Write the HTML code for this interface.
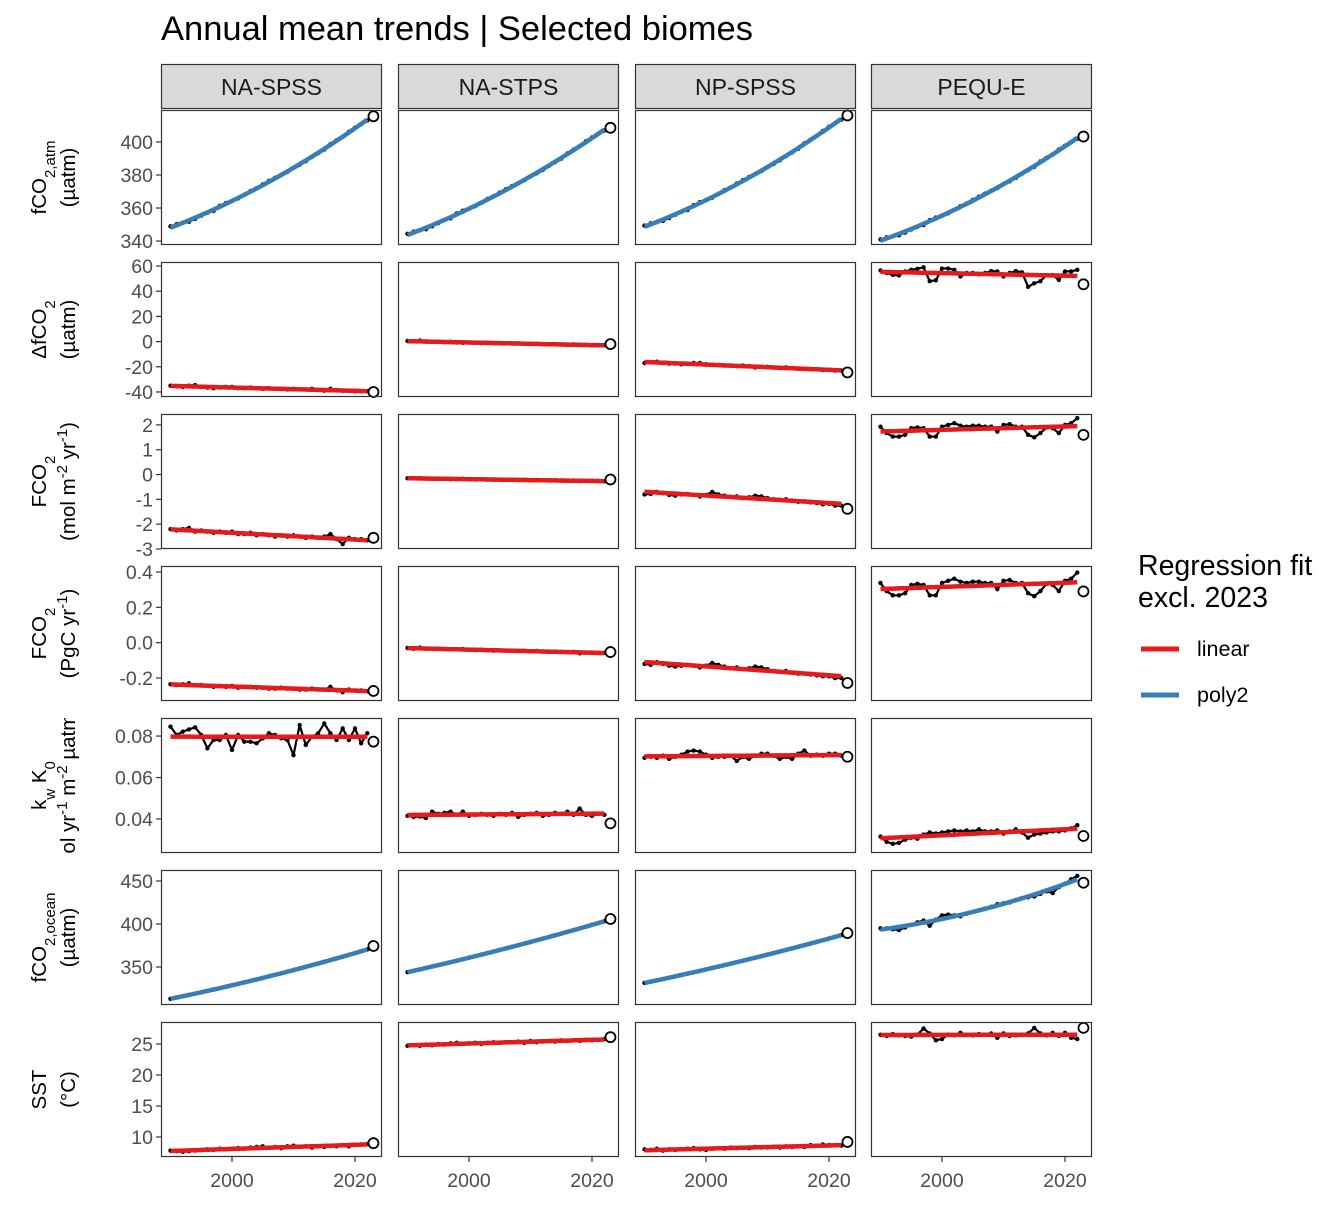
<!DOCTYPE html>
<html><head><meta charset="utf-8"><style>
body{margin:0;background:#fff}
svg text{font-family:"Liberation Sans",Arial,sans-serif}
</style></head><body>
<svg id="c" width="1344" height="1209" xmlns="http://www.w3.org/2000/svg">
<text x="161" y="40" font-size="34.5" fill="#000">Annual mean trends | Selected biomes</text>
<g>
<text x="1138" y="575" font-size="28.5">Regression fit</text>
<text x="1138" y="607" font-size="28.5">excl. 2023</text>
<line x1="1141" y1="649" x2="1179" y2="649" stroke="#E41A1C" stroke-width="5"/>
<text x="1197" y="656" font-size="21.5">linear</text>
<line x1="1141" y1="695" x2="1179" y2="695" stroke="#377EB8" stroke-width="5"/>
<text x="1197" y="702" font-size="21.5">poly2</text>
</g>
</svg>
<script>
const biomes=["NA-SPSS","NA-STPS","NP-SPSS","PEQU-E"];
const firstYear=1990;
const xTicks=[2000,2020];
const fco2atm=[
[348.9,350.2,351.0,351.7,353.4,355.4,357.2,358.3,361.3,363.0,364.2,365.8,368.0,370.3,372.0,374.3,376.4,378.3,380.1,381.9,384.4,386.2,388.4,391.0,393.2,395.4,398.7,401.0,403.2,406.2,408.7,410.9,413.0,415.6],
[344.4,345.7,346.5,347.2,348.9,350.9,352.7,353.8,356.7,358.4,359.5,361.1,363.2,365.5,367.1,369.4,371.4,373.3,375.0,376.8,379.2,381.0,383.1,385.6,387.8,389.9,393.1,395.4,397.5,400.4,402.8,404.9,406.9,408.6],
[349.4,350.7,351.5,352.2,353.9,355.9,357.7,358.8,361.8,363.5,364.7,366.3,368.5,370.8,372.5,374.8,376.9,378.8,380.6,382.4,384.9,386.7,388.9,391.5,393.7,395.9,399.2,401.5,403.7,406.7,409.2,411.4,413.5,416.1],
[341.0,342.2,342.9,343.5,345.1,347.0,348.7,349.7,352.6,354.2,355.3,356.8,358.9,361.1,362.7,364.9,366.9,368.7,370.4,372.1,374.5,376.2,378.3,380.8,382.9,385.0,388.2,390.4,392.5,395.4,397.8,399.9,401.9,403.3]];
const dfco2=[
[-35,-35.5,-36,-35,-34.5,-36,-36.5,-37,-36.5,-36,-36,-37,-37,-36.5,-37,-37.5,-37,-37.5,-37.5,-38,-37.5,-38,-38,-37.5,-38.5,-39,-37.5,-38.5,-39,-39,-39.5,-39.5,-39.5,-40],
[0.5,0.3,0.8,0.2,0,-0.3,-0.5,-0.2,-0.8,-1,-0.7,-0.9,-1.2,-1,-1.3,-1.2,-1.5,-1.6,-1.4,-1.8,-2,-1.7,-2,-2.2,-2.1,-2.3,-2.5,-2.2,-2.6,-2.6,-3,-2.7,-2.8,-2],
[-17,-16.5,-16,-17,-17.5,-17.5,-18,-17.5,-17,-17,-18,-18.5,-18.5,-19,-19,-19.5,-19,-19.5,-20.5,-20,-20,-20.5,-21,-20.5,-21,-21.5,-21.5,-22,-22,-22.5,-22.5,-23,-23,-24.5],
[56.5,54.5,53,52.5,55.7,57,57.8,59,48,48.7,58,58,57,51.7,54.5,54.5,53.5,54.5,56,55.7,51.7,54.5,56,55,43.5,46.3,48,52.8,52.8,49,55.7,55.7,57,45.5]];
const fco2mol=[
[-2.2,-2.25,-2.2,-2.15,-2.3,-2.25,-2.3,-2.35,-2.3,-2.35,-2.3,-2.4,-2.4,-2.35,-2.45,-2.4,-2.45,-2.5,-2.45,-2.5,-2.45,-2.5,-2.55,-2.5,-2.55,-2.5,-2.4,-2.6,-2.8,-2.55,-2.6,-2.6,-2.65,-2.55],
[-0.15,-0.14,-0.15,-0.16,-0.17,-0.16,-0.17,-0.18,-0.18,-0.17,-0.19,-0.2,-0.19,-0.2,-0.21,-0.2,-0.21,-0.22,-0.22,-0.21,-0.23,-0.22,-0.23,-0.24,-0.23,-0.24,-0.25,-0.24,-0.26,-0.25,-0.25,-0.26,-0.27,-0.2],
[-0.8,-0.78,-0.7,-0.75,-0.82,-0.85,-0.8,-0.78,-0.82,-0.88,-0.82,-0.7,-0.8,-0.85,-0.9,-0.88,-0.95,-0.92,-0.85,-0.88,-0.95,-1.0,-1.02,-1.0,-1.05,-1.1,-1.08,-1.12,-1.15,-1.2,-1.18,-1.25,-1.25,-1.38],
[1.93,1.67,1.53,1.53,1.6,1.87,1.9,1.87,1.53,1.53,1.93,2.0,2.07,1.97,1.93,1.97,1.97,1.93,1.93,1.73,2.0,2.03,1.93,1.93,1.6,1.5,1.67,1.9,1.87,1.67,2.0,2.07,2.27,1.6]];
const fco2pgc=[
[-0.235,-0.24,-0.235,-0.23,-0.24,-0.24,-0.245,-0.25,-0.245,-0.25,-0.245,-0.255,-0.25,-0.25,-0.255,-0.255,-0.26,-0.26,-0.255,-0.26,-0.26,-0.265,-0.265,-0.26,-0.265,-0.265,-0.25,-0.27,-0.28,-0.265,-0.27,-0.27,-0.275,-0.273],
[-0.03,-0.035,-0.028,-0.033,-0.035,-0.034,-0.036,-0.038,-0.037,-0.036,-0.04,-0.042,-0.04,-0.043,-0.045,-0.044,-0.045,-0.046,-0.047,-0.046,-0.048,-0.047,-0.05,-0.052,-0.05,-0.052,-0.054,-0.052,-0.06,-0.056,-0.055,-0.057,-0.058,-0.053],
[-0.12,-0.125,-0.11,-0.12,-0.13,-0.135,-0.13,-0.125,-0.13,-0.14,-0.13,-0.115,-0.125,-0.135,-0.145,-0.14,-0.15,-0.145,-0.135,-0.14,-0.15,-0.16,-0.165,-0.16,-0.17,-0.175,-0.175,-0.18,-0.185,-0.19,-0.19,-0.2,-0.2,-0.228],
[0.338,0.292,0.268,0.268,0.28,0.327,0.333,0.327,0.268,0.268,0.338,0.35,0.362,0.345,0.338,0.345,0.345,0.338,0.338,0.303,0.35,0.355,0.338,0.338,0.28,0.263,0.292,0.333,0.327,0.292,0.35,0.362,0.397,0.29]];
const kwk0=[
[0.0845,0.0805,0.0821,0.0832,0.0842,0.0805,0.0741,0.0781,0.0781,0.0805,0.0733,0.0805,0.0773,0.0773,0.0765,0.0789,0.0813,0.0805,0.0789,0.0781,0.0708,0.0853,0.0757,0.0797,0.0813,0.0861,0.0813,0.0781,0.0837,0.0781,0.0837,0.0765,0.0813,0.0773],
[0.0415,0.041,0.0412,0.0405,0.0435,0.0425,0.043,0.0435,0.042,0.0435,0.0415,0.042,0.0425,0.042,0.0415,0.0425,0.042,0.043,0.041,0.042,0.0425,0.043,0.0415,0.042,0.043,0.0425,0.0435,0.042,0.045,0.042,0.0415,0.0425,0.042,0.0379],
[0.0695,0.07,0.0695,0.0705,0.069,0.07,0.071,0.0725,0.073,0.0725,0.071,0.0695,0.07,0.07,0.0705,0.068,0.07,0.069,0.0705,0.0715,0.0715,0.0705,0.069,0.07,0.069,0.0715,0.073,0.0705,0.071,0.0705,0.0715,0.0715,0.0705,0.07],
[0.0315,0.029,0.028,0.0285,0.03,0.031,0.0305,0.0325,0.0335,0.033,0.0335,0.034,0.0345,0.034,0.0345,0.034,0.035,0.034,0.034,0.0345,0.033,0.034,0.035,0.0335,0.031,0.0325,0.033,0.0335,0.034,0.034,0.0345,0.0355,0.037,0.0318]];
const fco2ocean=[
[313,314.5,316,317.5,319,320.6,322.2,323.8,325.4,327,328.7,330.4,332.1,333.8,335.5,337.3,339.1,340.9,342.7,344.5,346.4,348.3,350.2,352.1,354,356,358,360,362,364.1,366.2,368.3,370.4,374.4],
[344,345.6,347.2,348.8,350.5,352.2,353.9,355.6,357.3,359,360.8,362.6,364.4,366.2,368,369.8,371.6,373.4,375.3,377.2,379.1,381,382.9,384.8,386.8,388.8,390.8,392.8,394.8,396.9,399,401.1,403.2,405.8],
[331.4,332.9,334.4,335.9,337.5,339.1,340.7,342.3,343.9,345.5,347.1,348.8,350.5,352.2,353.9,355.6,357.3,359,360.8,362.6,364.4,366.2,368,369.8,371.6,373.5,375.4,377.3,379.2,381.1,383.1,385.1,387.1,389.5],
[395,395,394,393,396,399,402,404,398,405,410,411,410,409,412,414,416,418,420,423,424,425,428,430,431,432,435,438,436,443,447,452,456,448]];
const sst=[
[7.8,7.7,7.6,7.7,7.8,7.9,8.0,7.9,8.1,8.0,8.1,8.2,8.1,8.3,8.4,8.5,8.3,8.4,8.2,8.5,8.6,8.4,8.5,8.3,8.5,8.4,8.6,8.5,8.7,8.5,8.7,8.8,8.9,9.0],
[24.7,24.8,24.7,24.9,24.8,25.0,24.9,25.1,25.2,25.0,25.1,25.2,25.0,25.2,25.3,25.2,25.3,25.3,25.4,25.2,25.5,25.3,25.4,25.5,25.4,25.6,25.5,25.6,25.5,25.7,25.6,25.7,25.8,26.1],
[8.0,7.9,8.1,7.8,8.0,7.9,8.0,8.1,8.2,8.0,7.9,8.1,8.2,8.1,8.3,8.2,8.3,8.2,8.4,8.3,8.3,8.4,8.3,8.5,8.4,8.5,8.4,8.7,8.6,8.8,8.7,8.7,8.6,9.2],
[26.5,26.3,26.6,26.4,26.3,26.2,26.5,27.5,26.7,25.6,25.8,26.5,26.4,26.8,26.5,26.4,26.6,26.5,26.7,26.0,26.7,26.3,26.4,26.5,26.7,27.6,26.7,26.4,26.8,26.3,26.8,26.0,25.8,27.6]];
const yTicks1=[340,360,380,400];
const yTicks2=[-40,-20,0,20,40,60];
const yTicks3=[-3,-2,-1,0,1,2];
const yTicks4=[-0.2,0.0,0.2,0.4];
const yTicks5=[0.04,0.06,0.08];
const yTicks6=[350,400,450];
const yTicks7=[10,15,20,25];

const NS="http://www.w3.org/2000/svg";
const svg=document.getElementById('c');
function mk(t,a,p){const e=document.createElementNS(NS,t);for(const k in a)e.setAttribute(k,a[k]);(p||svg).appendChild(e);return e;}
const colL=[161,398,635,871], PW=221, PH=135;
const rowT=[110,262,414,566,718,870,1022];
const rows=[
 {name:"fco2-atm",data:fco2atm,dom:[337.6,419.4],ticks:yTicks1,fit:2,fmt:v=>v},
 {name:"delta-fco2",data:dfco2,dom:[-44,63.2],ticks:yTicks2,fit:1,fmt:v=>v},
 {name:"fco2-mol",data:fco2mol,dom:[-3.0,2.44],ticks:yTicks3,fit:1,fmt:v=>v},
 {name:"fco2-pgc",data:fco2pgc,dom:[-0.330,0.434],ticks:yTicks4,fit:1,fmt:v=>v.toFixed(1)},
 {name:"kw-k0",data:kwk0,dom:[0.0236,0.0887],ticks:yTicks5,fit:1,fmt:v=>v.toFixed(2)},
 {name:"fco2-ocean",data:fco2ocean,dom:[305.8,462.8],ticks:yTicks6,fit:2,fmt:v=>v},
 {name:"sst",data:sst,dom:[6.77,28.55],ticks:yTicks7,fit:1,fmt:v=>v}];
function xs(c,yr){return colL[c]+9.5+(yr-firstYear)*6.15;}
function ysc(r,v){const d=rows[r].dom;return rowT[r]+PH-(v-d[0])/(d[1]-d[0])*PH;}
function solve(A,b){const n=b.length;for(let i=0;i<n;i++){let m=i;for(let k=i+1;k<n;k++)if(Math.abs(A[k][i])>Math.abs(A[m][i]))m=k;[A[i],A[m]]=[A[m],A[i]];[b[i],b[m]]=[b[m],b[i]];for(let k=i+1;k<n;k++){const f=A[k][i]/A[i][i];for(let j=i;j<n;j++)A[k][j]-=f*A[i][j];b[k]-=f*b[i];}}const x=new Array(n).fill(0);for(let i=n-1;i>=0;i--){let s=b[i];for(let j=i+1;j<n;j++)s-=A[i][j]*x[j];x[i]=s/A[i][i];}return x;}
function fitPoly(vals,deg){const n=deg+1;const A=[...Array(n)].map(()=>new Array(n).fill(0)),b=new Array(n).fill(0);for(let i=0;i<vals.length;i++){const t=i/10;for(let j=0;j<n;j++){b[j]+=vals[i]*Math.pow(t,j);for(let k=0;k<n;k++)A[j][k]+=Math.pow(t,j+k);}}return solve(A,b);}

biomes.forEach((b,c)=>{
 const g=mk('g',{});
 
 
 mk('rect',{x:colL[c]+0.5,y:64.5,width:PW-1,height:44,fill:'#d9d9d9',stroke:'#333','stroke-width':1.2},g);
 const t=mk('text',{x:colL[c]+PW/2,y:95,'font-size':23,'text-anchor':'middle',fill:'#1a1a1a'},g);t.textContent=b;
});
rows.forEach((row,r)=>{
 const ty=rowT[r];
 row.ticks.forEach(v=>{
  const y=ysc(r,v);
  const l=mk('line',{x1:156,x2:161,y1:y,y2:y,stroke:'#333','stroke-width':1.2});
  
  
  const t=mk('text',{x:153,y:y+7,'font-size':19.5,'text-anchor':'end',fill:'#4d4d4d'});
  
  
  t.textContent=row.fmt(v);
 });
 biomes.forEach((b,c)=>{
  const g=mk('g',{});
  
  
  const cid='cl'+r+'_'+c;
  const cp=mk('clipPath',{id:cid},g);mk('rect',{x:colL[c],y:ty,width:PW,height:PH},cp);
  const vals=row.data[c];
  const inner=mk('g',{'clip-path':'url(#'+cid+')'},g);
  let d='';
  for(let i=0;i<vals.length-1;i++)d+=(i?'L':'M')+xs(c,firstYear+i).toFixed(1)+','+ysc(r,vals[i]).toFixed(1);
  const pl=mk('path',{d:d,fill:'none',stroke:'#000','stroke-width':2.2,'stroke-linejoin':'round'},inner);
  
  
  for(let i=0;i<vals.length-1;i++){
   const p=mk('circle',{cx:xs(c,firstYear+i),cy:ysc(r,vals[i]),r:2.2,fill:'#000'},inner);
   
   
  }
  const coef=fitPoly(vals.slice(0,-1),row.fit);
  let fd='';
  for(let i=0;i<=64;i++){const t=i*(vals.length-2)/64;let v=0;coef.forEach((a,j)=>v+=a*Math.pow(t/10,j));fd+=(i?'L':'M')+xs(c,firstYear+t).toFixed(1)+','+ysc(r,v).toFixed(1);}
  const fl=mk('path',{d:fd,fill:'none',stroke:row.fit==2?'#377EB8':'#E41A1C','stroke-width':4.5},inner);
  
  
  const last=vals.length-1;
  const oc=mk('circle',{cx:xs(c,firstYear+last),cy:ysc(r,vals[last]),r:5,fill:'none',stroke:'#000','stroke-width':1.8},g);
  
  
  mk('rect',{x:colL[c]+0.5,y:ty+0.5,width:PW-1,height:PH-1,fill:'none',stroke:'#333','stroke-width':1.2},g);
  if(r==6){
   xTicks.forEach(yr=>{
    const x=xs(c,yr);
    const l=mk('line',{x1:x,x2:x,y1:ty+PH,y2:ty+PH+5,stroke:'#333','stroke-width':1.2});
    
    
    const t=mk('text',{x:x,y:ty+PH+30,'font-size':19.5,'text-anchor':'middle',fill:'#4d4d4d'});
    
    
    t.textContent=yr;
   });
  }
 });
});
const titles=[
 ['fCO<tspan baseline-shift="sub" font-size="15">2,atm</tspan>','(µatm)'],
 ['ΔfCO<tspan baseline-shift="sub" font-size="15">2</tspan>','(µatm)'],
 ['FCO<tspan baseline-shift="sub" font-size="15">2</tspan>','(mol m<tspan baseline-shift="super" font-size="15">-2</tspan> yr<tspan baseline-shift="super" font-size="15">-1</tspan>)'],
 ['FCO<tspan baseline-shift="sub" font-size="15">2</tspan>','(PgC yr<tspan baseline-shift="super" font-size="15">-1</tspan>)'],
 ['k<tspan baseline-shift="sub" font-size="15">w</tspan> K<tspan baseline-shift="sub" font-size="15">0</tspan>','(mol yr<tspan baseline-shift="super" font-size="15">-1</tspan> m<tspan baseline-shift="super" font-size="15">-2</tspan> µatm<tspan baseline-shift="super" font-size="15">-1</tspan>)'],
 ['fCO<tspan baseline-shift="sub" font-size="15">2,ocean</tspan>','(µatm)'],
 ['SST','(°C)']];
titles.forEach((tt,r)=>{
 const cy=rowT[r]+PH/2;
 const cid='yt'+r;
 const cp=mk('clipPath',{id:cid});mk('rect',{x:0,y:rowT[r],width:100,height:PH},cp);
 const g=mk('g',{'clip-path':'url(#'+cid+')'});
 
 
 const t1=mk('text',{x:0,y:0,'font-size':20.5,'text-anchor':'middle',transform:'translate(46,'+cy+') rotate(-90)'},g);t1.innerHTML=tt[0];
 const t2=mk('text',{x:0,y:0,'font-size':20.5,'text-anchor':'middle',transform:'translate(75,'+cy+') rotate(-90)'},g);t2.innerHTML=tt[1];
});
</script>
</body></html>
